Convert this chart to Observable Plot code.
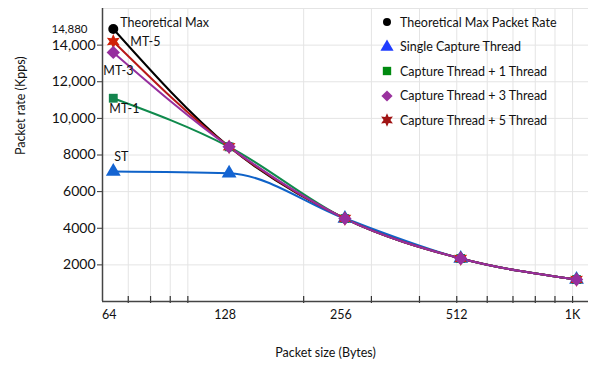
<!DOCTYPE html>
<html><head><meta charset="utf-8">
<script src="https://cdn.jsdelivr.net/npm/d3@7"></script>
<script src="https://cdn.jsdelivr.net/npm/@observablehq/plot@0.6"></script>
<style>
body{margin:0;background:#fff;font-family:Lato,"Open Sans",sans-serif}
#wrap{position:relative;width:596px;height:371px}
#legend{position:absolute;left:379px;top:10px;font-size:12.5px;color:#111;font-family:Lato,sans-serif}
.row{display:flex;align-items:center;height:24.5px;white-space:nowrap}
.row svg{width:16px;height:16px;margin-right:5px;overflow:visible}
</style></head><body><div id="wrap"><div id="legend"></div></div>
<script>
// ---- data ----
const sizes = [64, 128, 256, 512, 1024];
const sizeLabels = ["64", "128", "256", "512", "1K"];
const seriesNames = ["Theoretical Max Packet Rate", "Single Capture Thread", "Capture Thread + 1 Thread", "Capture Thread + 3 Thread", "Capture Thread + 5 Thread"];
const pointLabels = ["Theoretical Max", "ST", "MT-1", "MT-3", "MT-5"];
const theoretical = [14880, 8446, 4529, 2350, 1197];
const singleThread = [7100, 7000, 4529, 2350, 1197];
const plus1 = [11100, 8446, 4529, 2350, 1197];
const plus3 = [13600, 8446, 4529, 2350, 1197];
const plus5 = [14200, 8446, 4529, 2350, 1197];
const yTicks = [2000, 4000, 6000, 8000, 10000, 12000, 14000];
const yGrid = [2000, 4000, 6000, 8000, 10000, 12000, 14000, 16000];
const xMinorTicks = [70, 80, 90, 100, 200, 300, 400, 500, 600, 700, 800, 900, 1000];
const peakLabel = [14880];

// six-pointed star symbol
const star6 = {draw(ctx, size) {
  const R = Math.sqrt(size / Math.PI) * 1.35, r = R * 0.5;
  for (let i = 0; i < 12; i++) {
    const a = -Math.PI / 2 + i * Math.PI / 6, rr = i % 2 ? r : R;
    const x = rr * Math.cos(a), y = rr * Math.sin(a);
    i ? ctx.lineTo(x, y) : ctx.moveTo(x, y);
  }
  ctx.closePath();
}};

const styles = [
  {values: theoretical, stroke: "#000000", fill: "#000000", symbol: "circle", r: 5, legendFill: "#000000", legendSymbol: d3.symbolCircle, legendSize: 50},
  {values: singleThread, stroke: "#0f62c8", fill: "#1464d2", symbol: "triangle", r: 5.5, legendFill: "#1f3cff", legendSymbol: d3.symbolTriangle, legendSize: 75},
  {values: plus1, stroke: "#0f8a4c", fill: "#14854e", symbol: "square", r: 5, legendFill: "#008a10", legendSymbol: d3.symbolSquare, legendSize: 70},
  {values: plus3, stroke: "#962e9e", fill: "#962e9e", symbol: "diamond2", r: 6, legendFill: "#9a329e", legendSymbol: d3.symbolDiamond2, legendSize: 80},
  {values: plus5, stroke: "#b81818", fill: "#d02008", symbol: star6, r: 5.5, legendFill: "#a01414", legendSymbol: star6, legendSize: 80}
];
const drawOrder = [0, 1, 2, 4, 3];

const rowsOf = i => sizes.map((x, j) => ({x, y: styles[i].values[j], name: seriesNames[i]}));

const marks = [
  Plot.gridY(yGrid, {stroke: "#e4e4e4", strokeOpacity: 1, strokeWidth: 1}),
  Plot.gridX(xMinorTicks, {stroke: "#e4e4e4", strokeOpacity: 1, strokeWidth: 1}),
  Plot.axisY(yTicks, {tickSize: 5, tickPadding: 2, fontSize: 14, stroke: "#333",
    tickFormat: d => d >= 10000 ? d3.format(",")(d) : String(d), label: null}),
  Plot.text(peakLabel, {y: d => d, text: d => d3.format(",")(d), frameAnchor: "left", dx: -15, textAnchor: "end", fontSize: 11.5, fill: "#111"}),
  // minor tick marks crossing the x axis
  Plot.ruleX(xMinorTicks, {x: d => d, insetTop: 288, insetBottom: -2, stroke: "#333", strokeWidth: 1.2}),
  // x tick labels
  Plot.text(sizes, {x: d => d, text: (d, i) => sizeLabels[i], frameAnchor: "bottom", dx: -4, dy: 17, fontSize: 12.5, fill: "#111"}),
  Plot.ruleY([0], {stroke: "#444", strokeWidth: 1.5}),
  Plot.ruleX([60], {stroke: "#444", strokeWidth: 1.5}),
  ...drawOrder.map(i => Plot.line(rowsOf(i), {x: "x", y: "y", stroke: styles[i].stroke, strokeWidth: 2, curve: "monotone-x"})),
  ...drawOrder.map(i => Plot.dot(rowsOf(i), {x: "x", y: "y", fill: styles[i].fill, symbol: styles[i].symbol, r: styles[i].r, stroke: "none"})),
  // point labels at 64 bytes
  Plot.text([0], {x: () => sizes[0], y: () => theoretical[0], text: () => pointLabels[0], dx: 7, dy: -6, textAnchor: "start", fontSize: 12.5, fill: "#111"}),
  Plot.text([0], {x: () => sizes[0], y: () => singleThread[0], text: () => pointLabels[1], dx: 1, dy: -14, textAnchor: "start", fontSize: 12.5, fill: "#111"}),
  Plot.text([0], {x: () => sizes[0], y: () => plus1[0], text: () => pointLabels[2], dx: -4, dy: 11, textAnchor: "start", fontSize: 12.5, fill: "#111"}),
  Plot.text([0], {x: () => sizes[0], y: () => plus3[0], text: () => pointLabels[3], dx: -10, dy: 19, textAnchor: "start", fontSize: 12.5, fill: "#111"}),
  Plot.text([0], {x: () => sizes[0], y: () => plus5[0], text: () => pointLabels[4], dx: 17, dy: 1, textAnchor: "start", fontSize: 12.5, fill: "#111"}),
  // axis titles
  Plot.text(["Packet rate (Kpps)"], {frameAnchor: "left", dx: -82, rotate: -90, fontSize: 12.5, fill: "#111"}),
  Plot.text(["Packet size (Bytes)"], {frameAnchor: "bottom", dx: -20, dy: 55, fontSize: 12.5, fill: "#111"})
];

const chart = Plot.plot({
  width: 596, height: 371,
  marginLeft: 102, marginRight: 8, marginTop: 8, marginBottom: 70,
  style: {fontFamily: "Lato, sans-serif", fontSize: "12.5px", color: "#111", background: "#fff"},
  x: {type: "log", domain: [60, 1100], axis: null},
  y: {domain: [0, 16000], axis: null},
  marks
});
document.getElementById("wrap").prepend(chart);

// legend
const legend = document.getElementById("legend");
styles.forEach((s, i) => {
  const row = document.createElement("div");
  row.className = "row";
  const path = d3.symbol(s.legendSymbol, s.legendSize)();
  row.innerHTML = `<svg viewBox="-8 -8 16 16"><path d="${path}" fill="${s.legendFill}"/></svg><span>${seriesNames[i]}</span>`;
  legend.appendChild(row);
});
</script>
</body></html>
